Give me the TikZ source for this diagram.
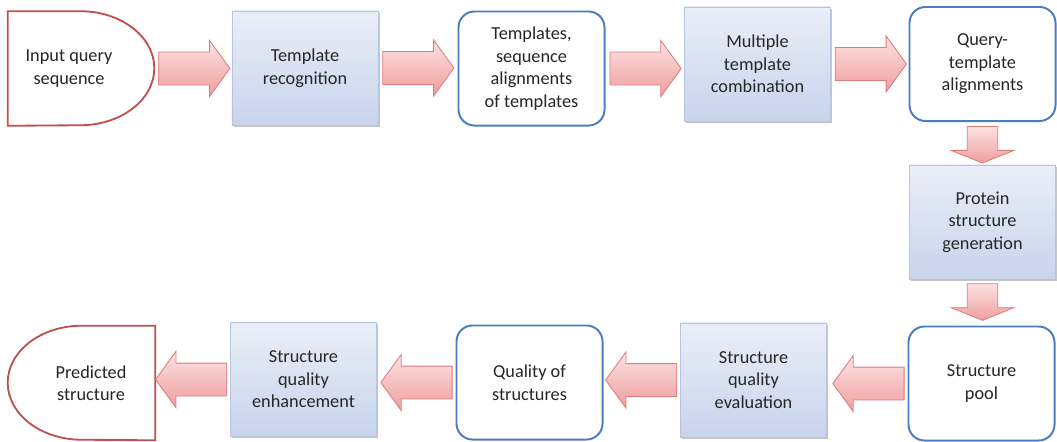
\documentclass[tikz,border=0pt]{standalone}
\usepackage{fontspec}
\setmainfont{Carlito}
\usepackage{tikz}
\usetikzlibrary{calc}
\usetikzlibrary{backgrounds}
\usetikzlibrary{shapes.arrows}
\definecolor{boxtop}{RGB}{234,238,247}
\definecolor{boxbot}{RGB}{200,212,236}
\definecolor{boxline}{RGB}{184,197,222}
\definecolor{roundline}{RGB}{74,126,190}
\definecolor{endline}{RGB}{192,80,77}
\definecolor{arrtop}{RGB}{252,226,226}
\definecolor{arrbot}{RGB}{240,158,158}
\definecolor{arrline}{RGB}{222,122,122}
\tikzset{basic box/.style={minimum width=3.65cm,
                           minimum height=2.85cm,
                           inner sep=2pt,
                           align=center,
                           text=black!85,
                           font=\fontsize{13}{16}\selectfont}}
\tikzset{stage box/.style={basic box,
                           draw=boxline,
                           top color=boxtop,
                           bottom color=boxbot,
                           preaction={fill=black!22,
                                      transform canvas={xshift=1.2pt,yshift=-1.4pt}}}}
\tikzset{result box/.style={basic box,
                            draw=roundline,
                            line width=1.4pt,
                            rounded corners=0.4cm,
                            fill=white}}
\tikzset{end line/.style={draw=endline,
                          line width=1.3pt,
                          fill=white}}

\begin{document}
\begin{tikzpicture}
    [
      x=0.025cm, y=-0.025cm,
      fat arrow/.style={single arrow,
      draw=arrline,
      line width=0.6pt,
      top color=arrtop,
      bottom color=arrbot,
      anchor=tail,
      single arrow head indent=0pt},
      side arrow/.style={fat arrow,
      inner sep=0.4cm,
      minimum height=1.78cm,
      single arrow head extend=0.29cm,
      single arrow tip angle=108},
      down arrow/.style={fat arrow,
      inner sep=0.37cm,
      single arrow head extend=0.4cm,
      single arrow tip angle=136,
      shape border rotate=270},
    ]
    \useasboundingbox (0,0) rectangle (1057,441);

    % start and end
    \node [basic box,minimum width=3.05cm] (in) at (69,68.5) {Input query\\sequence};
    \node [basic box,minimum width=3.2cm] (ps) at (91,383) {Predicted\\structure};
    \begin{pgfonlayer}{background}
    \path [end line] (in.north west) -- ($(in.north east)+(-1.25cm,0)$)
      arc [start angle=90, end angle=-90, x radius=1.85cm, y radius=1.425cm]
      -- (in.south west) -- cycle;
    \path [end line] (ps.north east) -- ($(ps.north west)+(1.375cm,0)$)
      arc [start angle=90, end angle=270, x radius=1.85cm, y radius=1.425cm]
      -- (ps.south east) -- cycle;
    \end{pgfonlayer}

    % stages
    \foreach \nm/\px/\py/\txt in
    {
      tr/305/68/Template\\recognition,
      mc/757.5/64/Multiple\\template\\combination,
      psg/982.5/222/Protein\\structure\\generation,
      sqe/753.5/380/Structure\\quality\\evaluation,
      sqh/303.5/379.5/Structure\\quality\\enhancement
    }
    {
    \node [stage box] (\nm) at (\px,\py) {\txt};
    }

    % results
    \foreach \nm/\px/\py/\txt in
    {
      ts/531.5/68.5/Templates{,}\\sequence\\alignments\\of templates,
      qt/982.5/64/Query-\\template\\alignments,
      sp/981.5/383.5/Structure\\pool,
      qs/529.5/382.5/Quality of\\structures
    }
    {
    \node [result box] (\nm) at (\px,\py) {\txt};
    }

    % arrows
    \node [side arrow] (Ain) at ($(in.east)+(28,0)$) {};
    \foreach \a in {tr,ts,mc}
    {
    \node [side arrow] (A\a) at ($(\a.east)+(4,0)$) {};
    }
    \foreach \a in {sp,sqe,qs,sqh}
    {
    \node [side arrow,shape border rotate=180] (A\a) at ($(\a.west)+(-3,0)$) {};
    }
    \foreach \a in {qt,psg}
    {
    \node [down arrow] (A\a) at ($(\a.south)+(0,4)$) {};
    }

  \end{tikzpicture}
\end{document}
